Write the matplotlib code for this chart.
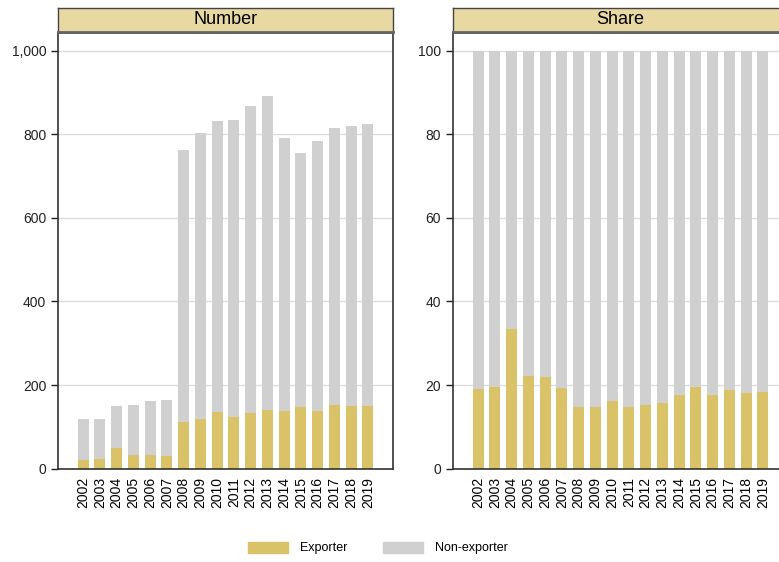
import numpy as np
import matplotlib
matplotlib.use("Agg")
import matplotlib.pyplot as plt
from matplotlib.patches import Patch
from matplotlib.ticker import FuncFormatter

plt.rcParams['font.family'] = ['Liberation Sans', 'DejaVu Sans']

years = [str(y) for y in range(2002, 2020)]
exporter_n = [21, 23, 50, 33, 33, 30, 112, 119, 136, 124, 134, 141, 138, 148, 138, 153, 150, 150]
total_n = [118, 120, 151, 153, 161, 165, 762, 803, 832, 834, 868, 892, 791, 755, 784, 815, 820, 825]
exporter_share = [19.1, 19.6, 33.3, 22.2, 22.0, 19.4, 14.8, 14.8, 16.2, 14.8, 15.3, 15.8,
                  17.7, 19.6, 17.7, 18.9, 18.2, 18.4]

non_exporter_n = [t - e for t, e in zip(total_n, exporter_n)]
non_exporter_share = [100 - s for s in exporter_share]

c_exp = '#d9c267'
c_non = '#d0d0d0'
c_head = '#e7d9a1'

W, H = 779, 562
fig = plt.figure(figsize=(W / 100, H / 100), dpi=100)


def px_box(x0, x1, y0, y1):
    return [x0 / W, 1 - y1 / H, (x1 - x0) / W, (y1 - y0) / H]


panels = [
    ("Number", exporter_n, non_exporter_n, 1042, [0, 200, 400, 600, 800, 1000], 58, 393),
    ("Share", exporter_share, non_exporter_share, 104.2, [0, 20, 40, 60, 80, 100], 453, 788),
]

x = np.arange(len(years))
for title, exp, non, top, ticks, x0, x1 in panels:
    ax = fig.add_axes(px_box(x0, x1, 33, 468.7))
    ax.bar(x, exp, width=0.66, color=c_exp, zorder=2)
    ax.bar(x, non, width=0.66, bottom=exp, color=c_non, zorder=2)
    ax.set_xlim(-1.5, len(years) + 0.5)
    ax.set_ylim(0, top)
    ax.set_yticks(ticks)
    ax.yaxis.set_major_formatter(FuncFormatter(lambda v, p: f"{int(v):,}"))
    ax.grid(axis='y', color='#dcdcdc', lw=1, zorder=0)
    ax.set_xticks(x)
    ax.set_xticklabels(years, rotation=90, fontsize=10)
    ax.tick_params(axis='x', length=0, pad=6)
    ax.tick_params(axis='y', labelsize=10, length=5, width=1, colors='#222222')
    for s in ax.spines.values():
        s.set_color('#333333')
        s.set_linewidth(1.2)

    hx = fig.add_axes(px_box(x0, x1, 8, 32))
    hx.set_facecolor(c_head)
    hx.set_xticks([])
    hx.set_yticks([])
    for s in hx.spines.values():
        s.set_color('#444444')
        s.set_linewidth(1)
    hx.spines['bottom'].set_linewidth(2)
    hx.spines['bottom'].set_color('#666666')
    hx.text(0.5, 0.5, title, ha='center', va='center', fontsize=13, transform=hx.transAxes)

handles = [Patch(color=c_exp, label='Exporter'), Patch(color=c_non, label='Non-exporter')]
fig.legend(handles=handles, loc='center', bbox_to_anchor=(0.485, 1 - 548 / H), ncol=2,
           frameon=False, fontsize=9, handlelength=3.2, handleheight=1.0, columnspacing=2.8,
           handletextpad=1.0)

fig.savefig('out.png', dpi=100)
